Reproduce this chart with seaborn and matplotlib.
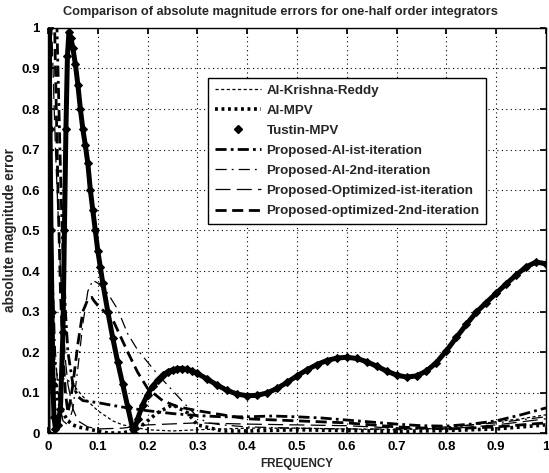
import matplotlib
matplotlib.use("Agg")
import matplotlib.pyplot as plt
from matplotlib.lines import Line2D
import seaborn as sns

sns.set_theme(style="white")
plt.rcParams['font.family'] = ['Liberation Sans', 'DejaVu Sans']

title = "Comparison of absolute magnitude errors for one-half order integrators"
xlabel = "FREQUENCY"
ylabel = "absolute magnitude error"
ticks = [0, 0.1, 0.2, 0.3, 0.4, 0.5, 0.6, 0.7, 0.8, 0.9, 1.0]
tick_labels = ["0", "0.1", "0.2", "0.3", "0.4", "0.5", "0.6", "0.7", "0.8", "0.9", "1"]

# AI-Krishna-Reddy
kr_f = [0, 0.004, 0.008, 0.012, 0.02, 0.03, 0.04, 0.05, 0.07, 0.1, 0.13, 0.15, 0.2, 0.25,
        0.3, 0.4, 0.5, 0.6, 0.7, 0.8, 0.85, 0.9, 0.95, 1.0]
kr_e = [0.0, 0.9, 0.45, 0.2, 0.13, 0.135, 0.13, 0.12, 0.09, 0.055, 0.03, 0.02, 0.008, 0.005,
        0.008, 0.012, 0.012, 0.01, 0.008, 0.012, 0.02, 0.028, 0.035, 0.045]

# AI-MPV
mpv_f = [0, 0.003, 0.006, 0.01, 0.02, 0.03, 0.04, 0.05, 0.06, 0.08, 0.1, 0.12, 0.15, 0.18,
         0.2, 0.22, 0.25, 0.28, 0.3, 0.35, 0.4, 0.5, 0.6, 0.7, 0.8, 0.9, 1.0]
mpv_e = [0.0, 0.95, 0.5, 0.15, 0.08, 0.05, 0.03, 0.02, 0.015, 0.01, 0.005, 0.0, 0.0, 0.01,
         0.03, 0.05, 0.07, 0.05, 0.02, 0.005, 0.005, 0.008, 0.006, 0.004, 0.006, 0.01, 0.02]

# Tustin-MPV
tu_f = [0.0, 0.001, 0.002, 0.004, 0.006, 0.008, 0.01, 0.012, 0.015, 0.02, 0.025, 0.03, 0.033, 0.036, 0.039,
        0.042, 0.046, 0.05, 0.055, 0.06, 0.065, 0.07, 0.075, 0.08, 0.085, 0.09, 0.095, 0.1,
        0.105, 0.11, 0.12, 0.13, 0.14, 0.15, 0.16, 0.17, 0.172, 0.18, 0.19, 0.2, 0.21, 0.22,
        0.23, 0.24, 0.25, 0.26, 0.27, 0.28, 0.29, 0.3, 0.32, 0.34, 0.36, 0.38, 0.4, 0.42,
        0.44, 0.46, 0.48, 0.5, 0.52, 0.54, 0.56, 0.58, 0.6, 0.62, 0.64, 0.66, 0.68, 0.7,
        0.72, 0.74, 0.76, 0.78, 0.8, 0.82, 0.84, 0.86, 0.88, 0.9, 0.92, 0.94, 0.96, 0.98, 1.0]
tu_e = [0.0, 0.5, 1.0, 0.75, 0.5, 0.3, 0.12, 0.04, 0.01, 0.02, 0.06, 0.25, 0.5, 0.75, 0.93,
        0.99, 0.975, 0.95, 0.91, 0.86, 0.80, 0.75, 0.71, 0.666, 0.60, 0.55, 0.50, 0.45,
        0.41, 0.37, 0.30, 0.235, 0.175, 0.12, 0.065, 0.01, 0.0, 0.035, 0.07, 0.095, 0.115, 0.13,
        0.142, 0.151, 0.156, 0.159, 0.159, 0.157, 0.153, 0.147, 0.133, 0.118, 0.105, 0.096, 0.092, 0.093,
        0.099, 0.11, 0.125, 0.141, 0.156, 0.169, 0.179, 0.185, 0.187, 0.184, 0.176, 0.165, 0.153, 0.143,
        0.138, 0.141, 0.153, 0.174, 0.203, 0.236, 0.268, 0.298, 0.322, 0.345, 0.368, 0.39, 0.41, 0.422, 0.418]

# Proposed-Al-ist-iteration
p1_f = [0.012, 0.018, 0.022, 0.026, 0.03, 0.035, 0.04, 0.05, 0.06, 0.07, 0.1, 0.13, 0.16, 0.2,
        0.25, 0.3, 0.35, 0.4, 0.45, 0.5, 0.55, 0.6, 0.65, 0.7, 0.75, 0.8, 0.85, 0.9, 0.95, 1.0]
p1_e = [1.3, 1.0, 0.8, 0.6, 0.45, 0.3, 0.2, 0.12, 0.09, 0.08, 0.075, 0.068, 0.062, 0.055,
        0.048, 0.043, 0.04, 0.04, 0.042, 0.04, 0.037, 0.032, 0.027, 0.022, 0.018, 0.017, 0.022, 0.03, 0.045, 0.062]

# Proposed-Al-2nd-iteration
p2_f = [0, 0.005, 0.01, 0.015, 0.02, 0.03, 0.04, 0.05, 0.06, 0.07, 0.08, 0.09, 0.1, 0.12, 0.14,
        0.16, 0.18, 0.2, 0.22, 0.25, 0.28, 0.3, 0.32, 0.35, 0.4, 0.5, 0.6, 0.7, 0.8, 0.9, 1.0]
p2_e = [1.2, 0.7, 0.4, 0.2, 0.1, 0.03, 0.02, 0.06, 0.16, 0.27, 0.35, 0.377, 0.37, 0.345, 0.305,
        0.245, 0.205, 0.175, 0.145, 0.105, 0.065, 0.04, 0.025, 0.02, 0.015, 0.012, 0.01, 0.01, 0.015, 0.025, 0.04]

# Proposed-Optimized-ist-iteration
o1_f = [0, 0.005, 0.01, 0.015, 0.02, 0.025, 0.03, 0.035, 0.04, 0.05, 0.06, 0.08, 0.1, 0.15,
        0.2, 0.3, 0.4, 0.5, 0.6, 0.7, 0.8, 0.9, 1.0]
o1_e = [1.5, 1.1, 0.9, 0.7, 0.55, 0.4, 0.28, 0.18, 0.12, 0.06, 0.03, 0.015, 0.01, 0.012,
        0.02, 0.025, 0.022, 0.02, 0.018, 0.012, 0.01, 0.02, 0.035]

# Proposed-optimized-2nd-iteration
o2_f = [0.01, 0.015, 0.02, 0.025, 0.03, 0.035, 0.04, 0.045, 0.05, 0.06, 0.07, 0.08, 0.088, 0.092,
        0.1, 0.13, 0.16, 0.18, 0.2, 0.23, 0.26, 0.3, 0.35, 0.4, 0.5, 0.6, 0.7, 0.8, 0.9, 0.95, 1.0]
o2_e = [1.2, 0.9, 0.6, 0.35, 0.2, 0.1, 0.05, 0.08, 0.12, 0.22, 0.3, 0.33, 0.335, 0.327,
        0.315, 0.28, 0.2, 0.15, 0.11, 0.08, 0.065, 0.055, 0.045, 0.035, 0.03, 0.025, 0.015, 0.01, 0.015, 0.02, 0.025]

labels = ["Al-Krishna-Reddy", "Al-MPV", "Tustin-MPV", "Proposed-Al-ist-iteration",
          "Proposed-Al-2nd-iteration", "Proposed-Optimized-ist-iteration",
          "Proposed-optimized-2nd-iteration"]

fig = plt.figure(figsize=(5.49, 4.73), dpi=100)
ax = fig.add_axes([48 / 549, 1 - 433 / 473, 498 / 549, 405 / 473])

common = dict(ax=ax, color="black", sort=False, estimator=None, legend=False)
sns.lineplot(x=kr_f, y=kr_e, linewidth=0.9, linestyle=(0, (2.5, 2)), **common)
sns.lineplot(x=mpv_f, y=mpv_e, linewidth=2.6, linestyle=(0, (0.8, 1.0)), **common)
sns.lineplot(x=tu_f, y=tu_e, linewidth=3.6, linestyle="-", marker="D", markersize=4.2,
             markeredgecolor="black", **common)
sns.lineplot(x=p1_f, y=p1_e, linewidth=2.0, linestyle=(0, (4, 1.5, 1, 1.5)), **common)
sns.lineplot(x=p2_f, y=p2_e, linewidth=0.9, linestyle=(0, (9, 4, 1.5, 4)), **common)
sns.lineplot(x=o1_f, y=o1_e, linewidth=0.9, linestyle=(0, (12, 5)), **common)
sns.lineplot(x=o2_f, y=o2_e, linewidth=2.0, linestyle=(0, (4, 2)), **common)

ax.set_xlim(0, 1)
ax.set_ylim(0, 1)
ax.set_xticks(ticks)
ax.set_xticklabels(tick_labels)
ax.set_yticks(ticks)
ax.set_yticklabels(tick_labels)
ax.grid(True, color="black", linestyle=(0, (1, 3)), linewidth=0.8)
for s in ax.spines.values():
    s.set_visible(True)
    s.set_color("black")
    s.set_linewidth(1.0)
ax.tick_params(direction="in", length=4, top=True, right=True, bottom=True, left=True,
               labelsize=9.5, pad=6, colors="black")
for lbl in ax.get_xticklabels() + ax.get_yticklabels():
    lbl.set_fontweight("bold")

ax.set_title(title, fontsize=9.2, fontweight="bold", pad=9, x=0.466)
ax.set_xlabel(xlabel, fontsize=8.4, fontweight="bold", labelpad=3)
ax.set_ylabel(ylabel, fontsize=9.8, fontweight="bold", labelpad=3)

handles = [
    Line2D([], [], color="black", linewidth=0.9, linestyle=(0, (2.5, 2))),
    Line2D([], [], color="black", linewidth=2.6, linestyle=(0, (0.8, 1.0))),
    Line2D([], [], color="black", linestyle="none", marker="D", markersize=4),
    Line2D([], [], color="black", linewidth=2.0, linestyle=(0, (4, 1.5, 1, 1.5))),
    Line2D([], [], color="black", linewidth=0.9, linestyle=(0, (9, 4, 1.5, 4))),
    Line2D([], [], color="black", linewidth=0.9, linestyle=(0, (12, 5))),
    Line2D([], [], color="black", linewidth=2.0, linestyle=(0, (4, 2))),
]
leg = ax.legend(handles, labels, loc="upper left", bbox_to_anchor=(0.321, 0.877),
                prop={"weight": "bold", "size": 9.6}, frameon=True, fancybox=False,
                edgecolor="black", framealpha=1, handlelength=3.5, handletextpad=0.4,
                labelspacing=0.58, borderpad=0.5, borderaxespad=0)
leg.get_frame().set_linewidth(1.0)

fig.savefig("out.png", dpi=100, facecolor="white")
